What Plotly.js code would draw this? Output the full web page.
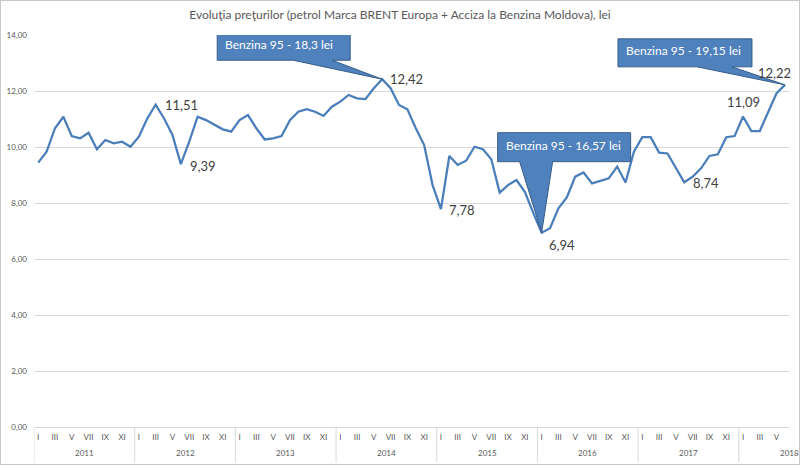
<!DOCTYPE html>
<html><head><meta charset="utf-8">
<script src="https://cdn.plot.ly/plotly-3.0.1.min.js"></script>
<style>
html,body{margin:0;padding:0;background:#fff;}
#chart{width:800px;height:465px;box-sizing:border-box;border:1px solid #c8c8c8;}
</style></head>
<body><div id="chart"></div>
<script>
const monthNames = ['I','II','III','IV','V','VI','VII','VIII','IX','X','XI','XII'];
const years = ['2011','2012','2013','2014','2015','2016','2017','2018'];
const v2011 = [9.44, 9.83, 10.67, 11.08, 10.39, 10.31, 10.51, 9.92, 10.25, 10.13, 10.19, 10.01];
const v2012 = [10.37, 11.02, 11.51, 11.02, 10.43, 9.39, 10.19, 11.08, 10.96, 10.79, 10.63, 10.55];
const v2013 = [10.96, 11.14, 10.67, 10.27, 10.31, 10.39, 10.96, 11.26, 11.35, 11.26, 11.11, 11.44];
const v2014 = [11.62, 11.86, 11.74, 11.71, 12.10, 12.42, 12.10, 11.50, 11.35, 10.67, 10.07, 8.64];
const v2015 = [7.78, 9.68, 9.36, 9.51, 10.01, 9.92, 9.56, 8.37, 8.64, 8.82, 8.40, 7.65];
const v2016 = [6.94, 7.10, 7.81, 8.20, 8.94, 9.09, 8.70, 8.79, 8.88, 9.30, 8.73, 9.83];
const v2017 = [10.35, 10.35, 9.80, 9.77, 9.24, 8.74, 8.94, 9.24, 9.68, 9.74, 10.35, 10.39];
const v2018 = [11.09, 10.57, 10.57, 11.26, 11.92, 12.22];
const yTicks = [0, 2, 4, 6, 8, 10, 12, 14];
const labelIdx = [14, 17, 41, 48, 60, 77, 84, 89];
const calloutIdx = [41, 60, 89];
const calloutText = ['Benzina 95 - 18,3 lei', 'Benzina 95 - 16,57 lei', 'Benzina 95 - 19,15 lei'];
const titleText = 'Evoluţia preţurilor (petrol Marca BRENT Europa + Acciza la Benzina Moldova), lei';

const series = [v2011, v2012, v2013, v2014, v2015, v2016, v2017, v2018];
const values = [].concat(...series);
const xs = values.map((_, i) => i);
const tickvals = [], ticktext = [];
xs.forEach(i => { if (i % 12 % 2 === 0) { tickvals.push(i); ticktext.push(monthNames[i % 12]); } });

const fmt = v => v.toFixed(2).replace('.', ',');
const lineColor = '#4a7ebb';

// label placements (style)
const labelStyle = {
  14: {xanchor: 'left', yanchor: 'middle', xshift: 7, yshift: 0},
  17: {xanchor: 'left', yanchor: 'middle', xshift: 7, yshift: -2},
  41: {xanchor: 'left', yanchor: 'middle', xshift: 6, yshift: 0},
  48: {xanchor: 'left', yanchor: 'middle', xshift: 6, yshift: -1},
  60: {xanchor: 'left', yanchor: 'middle', xshift: 5, yshift: -12},
  77: {xanchor: 'left', yanchor: 'middle', xshift: 7, yshift: -1},
  84: {xanchor: 'center', yanchor: 'middle', xshift: 0, yshift: 14},
  89: {xanchor: 'center', yanchor: 'middle', xshift: -10, yshift: 12}
};
const annotations = labelIdx.map(i => Object.assign({
  x: i, y: values[i], xref: 'x', yref: 'y', text: fmt(values[i]), showarrow: false,
  font: {family: 'Lato, sans-serif', size: 13, color: '#404040'}
}, labelStyle[i]));

// callouts: pixel geometry relative to the data point (style)
const calloutGeom = [
  {rx0: -165, rx1: -32, ry0: 19, ry1: 47, bx0: -89, bx1: -50},
  {rx0: -44, rx1: 89, ry0: 71, ry1: 100, bx0: -22, bx1: 11},
  {rx0: -167, rx1: -33, ry0: 18, ry1: 46, bx0: -88, bx1: -53}
];
const shapes = [];
calloutIdx.forEach((idx, k) => {
  const g = calloutGeom[k];
  const p = `M ${g.rx0},${g.ry1} L ${g.rx1},${g.ry1} L ${g.rx1},${g.ry0} L ${g.bx1},${g.ry0} L 0,0 L ${g.bx0},${g.ry0} L ${g.rx0},${g.ry0} Z`;
  shapes.push({type: 'path', xref: 'x', yref: 'y', xsizemode: 'pixel', ysizemode: 'pixel',
    xanchor: idx, yanchor: values[idx], path: p,
    fillcolor: '#4f81bd', line: {color: '#385d8a', width: 1}});
  annotations.push({x: idx, y: values[idx], xref: 'x', yref: 'y', showarrow: false,
    text: calloutText[k], xanchor: 'left', yanchor: 'middle',
    xshift: g.rx0 + 6, yshift: (g.ry0 + g.ry1) / 2 + 2,
    font: {family: 'Lato, sans-serif', size: 12, color: '#ffffff'}});
});

// year separators and year labels
const nYears = years.length;
for (let k = 0; k < nYears; k++) {
  const xb = k * 12 - 0.5;
  shapes.push({type: 'line', xref: 'x', yref: 'paper', x0: xb, x1: xb, y0: 0, y1: -0.09,
    line: {color: '#d9d9d9', width: 1}});
}
years.forEach((yr, k) => {
  const start = k * 12;
  const end = Math.min(start + 12, values.length);
  let cx = (start + end - 1) / 2;
  if (end - start < 12) cx = end - 0.5;
  annotations.push({x: cx, y: -0.066, xref: 'x', yref: 'paper', text: yr, showarrow: false,
    xanchor: 'center', yanchor: 'middle', font: {family: 'Lato, sans-serif', size: 8, color: '#595959'}});
});

const trace = {x: xs, y: values, type: 'scatter', mode: 'lines',
  line: {color: lineColor, width: 2.25}, hoverinfo: 'skip'};

const layout = {
  width: 798, height: 463,
  margin: {l: 33, r: 9, t: 34, b: 37},
  paper_bgcolor: '#ffffff', plot_bgcolor: '#ffffff',
  separators: ', ',
  showlegend: false,
  title: {text: titleText, x: 0.5, xanchor: 'center', y: 0.97, yanchor: 'middle',
    font: {family: 'Lato, sans-serif', size: 12, color: '#595959'}},
  xaxis: {range: [-0.5, 89.6], tickmode: 'array', tickvals: tickvals, ticktext: ticktext,
    showgrid: false, zeroline: false, showline: true, linecolor: '#d9d9d9', linewidth: 1,
    ticks: '', tickangle: 0, tickfont: {family: 'Lato, sans-serif', size: 8, color: '#595959'},
    ticklabelstandoff: 2},
  yaxis: {range: [0, 14], tickmode: 'array', tickvals: yTicks, tickformat: '.2f',
    showgrid: true, gridcolor: '#d9d9d9', gridwidth: 1, zeroline: false, showline: false,
    ticks: '', tickfont: {family: 'Lato, sans-serif', size: 8, color: '#595959'},
    ticklabelstandoff: 6},
  shapes: shapes,
  annotations: annotations
};
Plotly.newPlot('chart', [trace], layout, {displayModeBar: false, staticPlot: true});
</script></body></html>
